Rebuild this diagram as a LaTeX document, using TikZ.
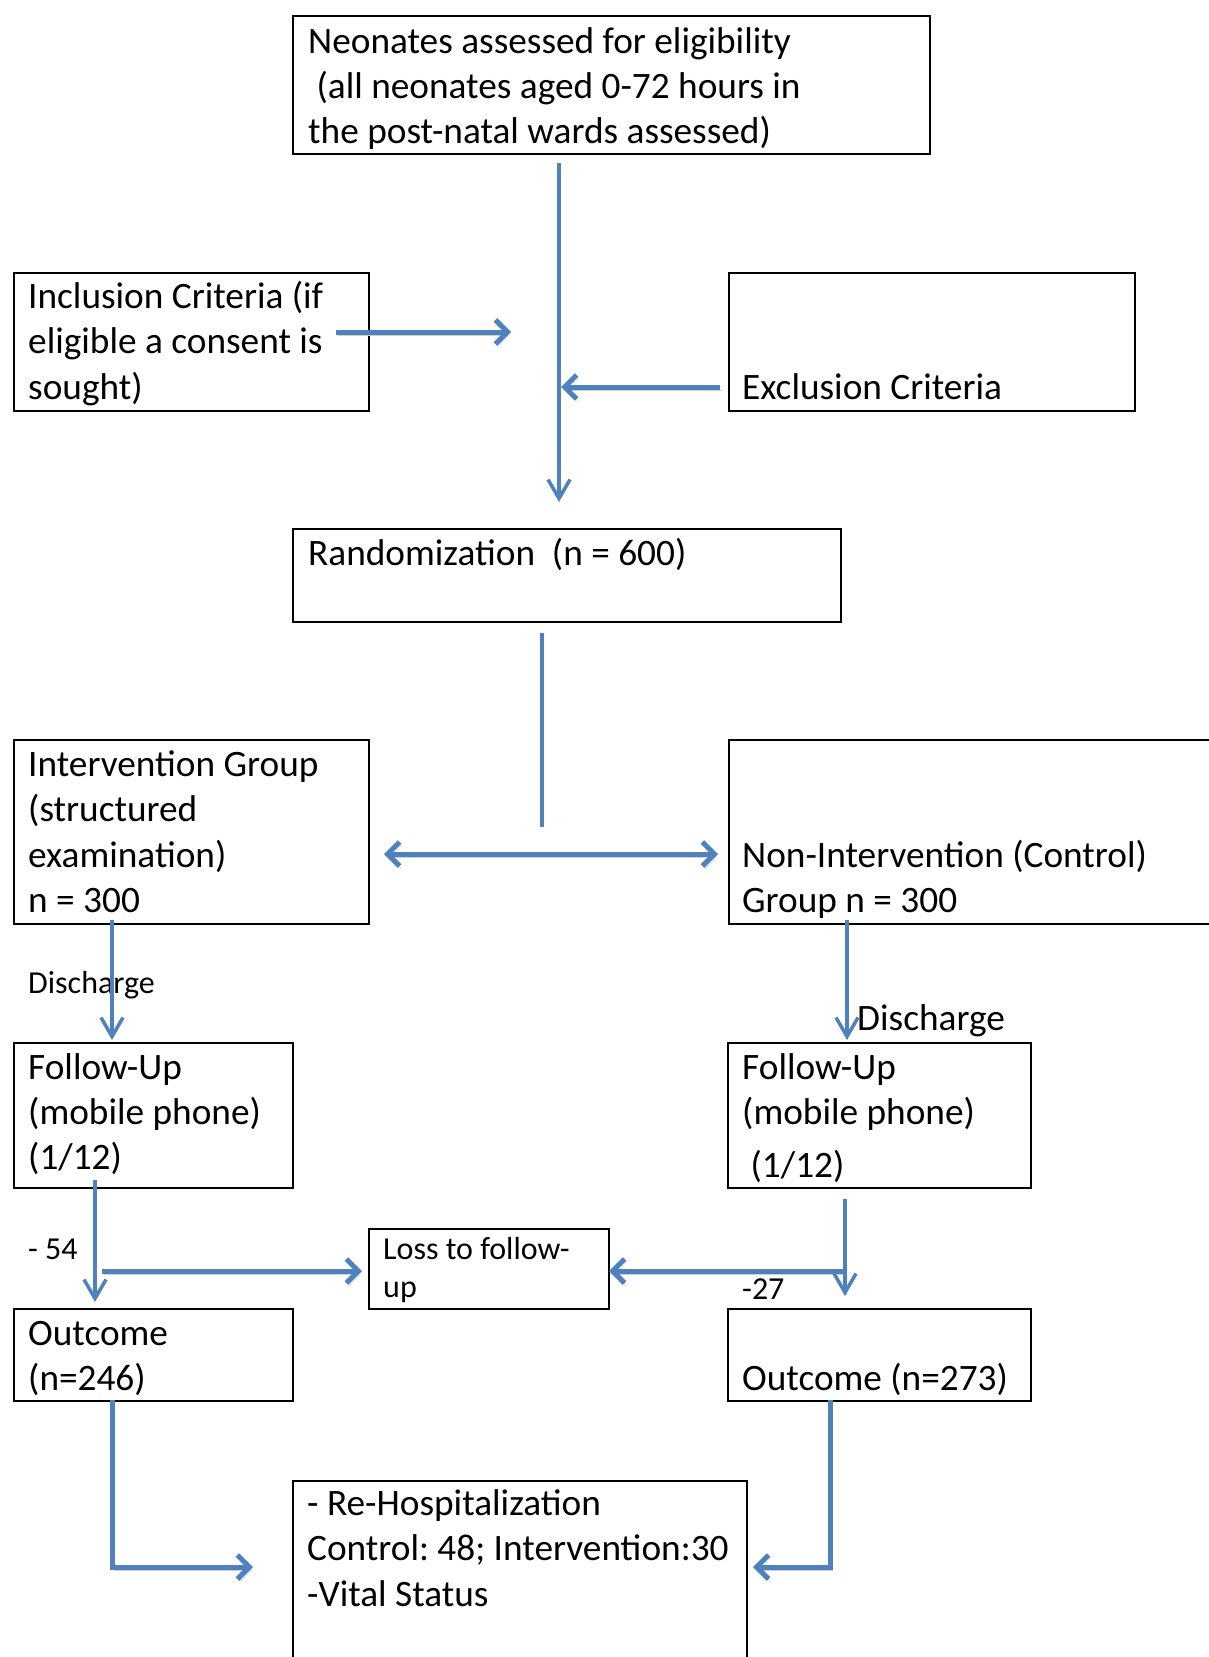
\documentclass[tikz,border=0pt]{standalone}
\usepackage{fontspec}
\setmainfont{Carlito}
\usetikzlibrary{arrows.meta}
\definecolor{arrowblue}{HTML}{4F81BD}
\definecolor{shadowgray}{HTML}{CFCFCF}
\frenchspacing
\begin{document}
\begin{tikzpicture}[x=1pt,y=-1pt,
  box/.style={draw=black, line width=2pt, rectangle, anchor=north west, inner sep=0pt},
  big/.style={font=\fontsize{37.3}{45.5}\selectfont, anchor=base west, inner sep=0pt, yshift=-1.5pt},
  small/.style={font=\fontsize{32}{38}\selectfont, anchor=base west, inner sep=0pt, yshift=-1.5pt},
  thinline/.style={draw=arrowblue, line width=3.5pt},
  thinarrow/.style={thinline, -{Straight Barb[length=19pt,width=22pt]}},
  thickline/.style={draw=arrowblue, line width=5pt,
     preaction={draw=shadowgray, transform canvas={shift={(2pt,-3pt)}}}},
  thickarrow/.style={thickline, -{Straight Barb[length=12pt,width=24pt]}},
  thickdouble/.style={thickline, {Straight Barb[length=12pt,width=24pt]}-{Straight Barb[length=12pt,width=24pt]}}
]
\useasboundingbox (0,0) rectangle (1208,1657);
\fill[white] (0,0) rectangle (1208,1657);

% boxes
\node[box, minimum width=637pt, minimum height=138pt] (top) at (292,15) {};
\node[box, minimum width=355pt, minimum height=138pt] (incl) at (13,272) {};
\node[box, minimum width=406pt, minimum height=138pt] (excl) at (728,272) {};
\node[box, minimum width=548pt, minimum height=93pt] (rand) at (292,528) {};
\node[box, minimum width=355pt, minimum height=184pt] (interv) at (13,739) {};
\node[box, minimum width=520pt, minimum height=184pt] (nonint) at (728,739) {};
\node[box, minimum width=279pt, minimum height=145pt] (fuL) at (13,1042) {};
\node[box, minimum width=303pt, minimum height=145pt] (fuR) at (727,1042) {};
\node[box, minimum width=240pt, minimum height=80pt] (loss) at (368,1228) {};
\node[box, minimum width=279pt, minimum height=92pt] (outL) at (13,1308) {};
\node[box, minimum width=303pt, minimum height=92pt] (outR) at (727,1308) {};
\node[box, minimum width=454pt, minimum height=240pt] (final) at (292,1480) {};

% texts
\node[big] (t1a) at (308,52) {Neonates assessed for eligibility};
\node[big] (t1b) at (308,97) {\ (all neonates aged 0-72 hours in};
\node[big] (t1c) at (308,142) {the post-natal wards assessed)};
\node[big] (inca) at (28,307) {Inclusion Criteria (if};
\node[big] (incb) at (28,352) {eligible a consent is};
\node[big] (incc) at (28,398) {sought)};
\node[big] (exct) at (742,398) {Exclusion Criteria};
\node[big] (randt) at (308,564) {Randomization\ \ (n = 600)};
\node[big] (inta) at (28,775) {Intervention Group};
\node[big] (intb) at (28,820) {(structured};
\node[big] (intc) at (28,866) {examination)};
\node[big] (intd) at (28,911) {n = 300};
\node[big] (nona) at (742,866) {Non-Intervention (Control)};
\node[big] (nonb) at (742,911) {Group n = 300};
\node[small] (dischL) at (28,992) {Discharge};
\node[big] (dischR) at (857,1029) {Discharge};
\node[big] (fula) at (28,1078) {Follow-Up};
\node[big] (fulb) at (28,1123) {(mobile phone)};
\node[big] (fulc) at (28,1168) {(1/12)};
\node[big] (fura) at (742,1078) {Follow-Up};
\node[big] (furb) at (742,1123) {(mobile phone)};
\node[big] (furc) at (742,1176) {\ (1/12)};
\node[small] (m54) at (28,1258) {- 54};
\node[small] (lossa) at (383,1258) {Loss to follow-};
\node[small] (lossb) at (383,1296) {up};
\node[small] (m27) at (742,1298) {-27};
\node[big] (outla) at (28,1344) {Outcome};
\node[big] (outlb) at (28,1389) {(n=246)};
\node[big] (outrt) at (742,1389) {Outcome (n=273)};
\node[big] (fina) at (307,1514) {- Re-Hospitalization};
\node[big] (finb) at (307,1559) {Control: 48; Intervention:30};
\node[big] (finc) at (307,1605) {-Vital Status};

% connector end points
\coordinate (c1s) at (559,163);  \coordinate (c1e) at (559,502);
\coordinate (c2s) at (336,332);  \coordinate (c2e) at (511,332);
\coordinate (c3s) at (720,387);  \coordinate (c3e) at (561,387);
\coordinate (c4s) at (542,633);  \coordinate (c4e) at (542,827);
\coordinate (c5s) at (384,854);  \coordinate (c5e) at (718,854);
\coordinate (c6s) at (112,920);  \coordinate (c6e) at (112,1040);
\coordinate (c7s) at (847,920);  \coordinate (c7e) at (847,1040);
\coordinate (c8s) at (95,1180);  \coordinate (c8e) at (95,1302);
\coordinate (c9s) at (102,1271); \coordinate (c9e) at (362,1271);
\coordinate (c10s) at (845,1199); \coordinate (c10e) at (845,1296);
\coordinate (c11s) at (845,1271); \coordinate (c11e) at (609,1271);
\coordinate (c12s) at (112,1400); \coordinate (c12m) at (112,1567); \coordinate (c12e) at (253,1567);
\coordinate (c13s) at (830,1400); \coordinate (c13m) at (830,1567); \coordinate (c13e) at (753,1567);

% connectors
\draw[thinarrow] (c1s) -- (c1e);
\draw[thickarrow] (c2s) -- (c2e);
\draw[thickarrow] (c3s) -- (c3e);
\draw[thinline] (c4s) -- (c4e);
\draw[thickdouble] (c5s) -- (c5e);
\draw[thinarrow] (c6s) -- (c6e);
\draw[thinarrow] (c7s) -- (c7e);
\draw[thinarrow] (c8s) -- (c8e);
\draw[thickarrow] (c9s) -- (c9e);
\draw[thickarrow] (c11s) -- (c11e);
\draw[thinarrow] (c10s) -- (c10e);
\draw[thickarrow] (c12s) -- (c12m) -- (c12e);
\draw[thickarrow] (c13s) -- (c13m) -- (c13e);
\end{tikzpicture}
\end{document}
